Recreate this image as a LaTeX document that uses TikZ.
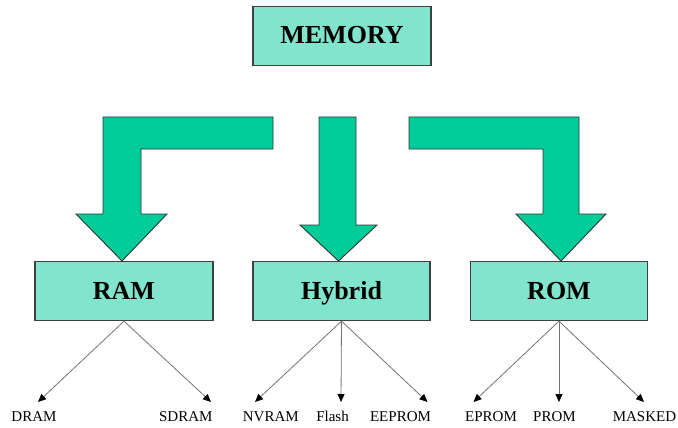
\documentclass[tikz,border=0pt]{standalone}
\usepackage{fontspec}
\setmainfont{Liberation Serif}
\usetikzlibrary{arrows.meta}
\definecolor{arrowgreen}{RGB}{0,204,153}
\definecolor{boxgreen}{RGB}{128,229,204}
\tikzset{
  membox/.style={draw=black!75, line width=1.3pt, fill=boxgreen, minimum height=59pt,
    inner sep=0pt, text height=19pt, text depth=3pt, font=\fontsize{26}{30}\selectfont\bfseries},
  bigarrow/.style={fill=arrowgreen, draw=black!80, line width=0.9pt, line join=miter},
  conn/.style={draw=black!55, line width=0.8pt, -{Triangle[length=8pt,width=7pt,color=black]}},
  leaf/.style={anchor=base, inner sep=0pt, font=\fontsize{15}{17}\selectfont}
}
\begin{document}
\begin{tikzpicture}[x=1pt,y=-1pt]
\useasboundingbox (0,0) rectangle (678,428);
% boxes
\node[membox, minimum width=178pt] (MEM) at (342,36) {MEMORY};
\node[membox, minimum width=178pt] (RAM) at (124,291) {RAM};
\node[membox, minimum width=177pt] (HYB) at (341.5,291) {Hybrid};
\node[membox, minimum width=177pt] (ROM) at (559,291) {ROM};
% big arrows
\path[bigarrow] (273,117) -- (103,117) -- (103,214) -- (76,214) -- (122,261)
  -- (167,214) -- (141,214) -- (141,149) -- (273,149) -- cycle;
\path[bigarrow] (319,117) -- (356,117) -- (356,225) -- (377,225) -- (338.5,261)
  -- (300,225) -- (319,225) -- cycle;
\path[bigarrow] (409,117) -- (579,117) -- (579,214) -- (606,214) -- (561,261)
  -- (516,214) -- (543,214) -- (543,149) -- (409,149) -- cycle;
% leaf labels
\node[leaf] (DRAM) at (34,421.7) {DRAM};
\node[leaf] (SDRAM) at (185.8,421.7) {SDRAM};
\node[leaf] (NVRAM) at (270.8,421.7) {NVRAM};
\node[leaf] (FLASH) at (332.5,421.7) {Flash};
\node[leaf] (EEPROM) at (400.5,421.7) {EEPROM};
\node[leaf] (EPROM) at (491,421.7) {EPROM};
\node[leaf] (PROM) at (554.5,421.7) {PROM};
\node[leaf] (MASKED) at (644.5,421.7) {MASKED};
% arrow tips
\coordinate (tDRAM) at (38,402);
\coordinate (tSDRAM) at (211,402);
\coordinate (tNVRAM) at (255,402);
\coordinate (tFLASH) at (341,402);
\coordinate (tEEPROM) at (427.5,402);
\coordinate (tEPROM) at (473.5,402);
\coordinate (tPROM) at (559,402);
\coordinate (tMASKED) at (644,402);
% connectors
\draw[conn] (RAM.south) -- (tDRAM);
\draw[conn] (RAM.south) -- (tSDRAM);
\draw[conn] (HYB.south) -- (tNVRAM);
\draw[conn] (HYB.south) -- (tFLASH);
\draw[conn] (HYB.south) -- (tEEPROM);
\draw[conn] (ROM.south) -- (tEPROM);
\draw[conn] (ROM.south) -- (tPROM);
\draw[conn] (ROM.south) -- (tMASKED);
\end{tikzpicture}
\end{document}
